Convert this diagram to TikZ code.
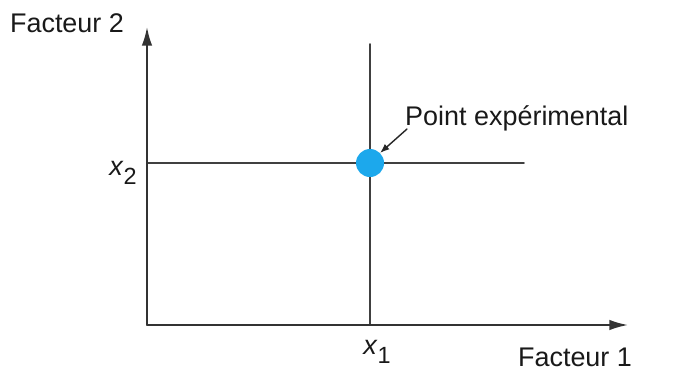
\documentclass[tikz,border=0pt]{standalone}
\usepackage{fontspec}
\setmainfont{Liberation Sans}
\usetikzlibrary{arrows.meta}
\definecolor{pointblue}{RGB}{28,168,236}
\begin{document}
\begin{tikzpicture}[x=0.03cm,y=-0.03cm,line cap=round,line join=round,>=latex,
  lbl/.style={inner sep=0pt,font=\fontsize{23}{27}\selectfont,text=black!90}]
  \useasboundingbox (0,0) rectangle (683,390);
  \coordinate (O) at (147,325);
  \coordinate (ytop) at (147,27);
  \coordinate (xend) at (628,325);
  % guide lines through the point
  \coordinate (vtop) at (370,44);
  \coordinate (vbot) at (370,325);
  \coordinate (hleft) at (147,163);
  \coordinate (hright) at (524,163);
  \draw[line width=1.4pt,black!75] (vbot) -- (vtop);
  \draw[line width=1.4pt,black!75] (hleft) -- (hright);
  % axes
  \draw[line width=1.6pt,black!80,-{Latex[length=16pt,width=9pt]}] (O) -- (ytop);
  \draw[line width=1.6pt,black!80,-{Latex[length=16pt,width=9pt]}] (O) -- (xend);
  \node[circle,fill=pointblue,minimum size=0.84cm,inner sep=0pt] (pt) at (370,163) {};
  \node[lbl,anchor=base west] (ptlbl) at (405,125) {Point expérimental};
  \coordinate (arrtail) at (407,129);
  \draw[line width=1.2pt,black!85,-{Latex[length=8pt,width=6pt]}] (arrtail) -- (pt.north east);
  \node[lbl] (f2) at (67,23) {Facteur 2};
  \node[lbl] (f1) at (575,357) {Facteur 1};
  \node[lbl] (x1) at (377,352) {\textit{x}\raisebox{-0.35em}{\fontsize{20}{24}\selectfont 1}};
  \node[lbl] (x2) at (123,173) {\textit{x}\raisebox{-0.35em}{\fontsize{20}{24}\selectfont 2}};
\end{tikzpicture}
\end{document}
